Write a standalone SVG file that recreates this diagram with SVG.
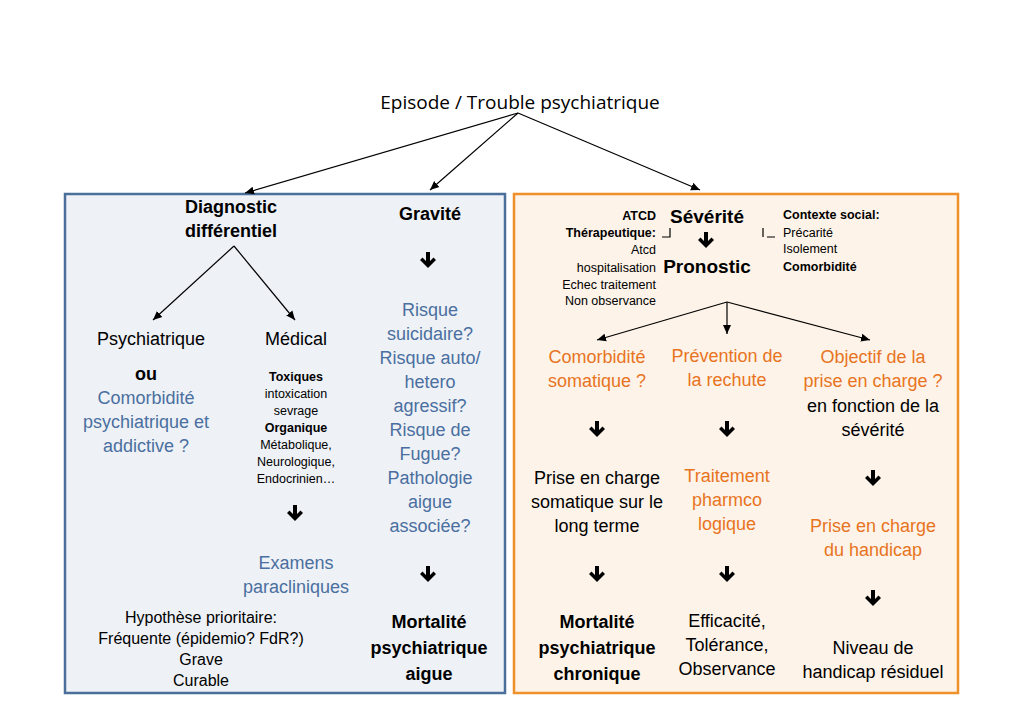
<svg xmlns="http://www.w3.org/2000/svg" width="1024" height="724" viewBox="0 0 1024 724">
<style>
text{font-family:"Liberation Sans",Arial,sans-serif;fill:#000;text-anchor:middle}
.t{font-size:18px}.s{font-size:12.5px}.b{font-weight:bold}
.bl{fill:#4a6fa0}.or{fill:#e8741f}
.ln{stroke:#000;stroke-width:1.2;fill:none}
</style>
<defs>
<marker id="ah" markerWidth="10" markerHeight="10" refX="9" refY="5" orient="auto" markerUnits="userSpaceOnUse"><path d="M0,1 L9,5 L0,9 Z" fill="#000"/></marker>
<path id="da" d="M-2,-8 H2 V1 L5.5,-2.5 L8,0 L0,8 L-8,0 L-5.5,-2.5 L-2,1 Z" fill="#000"/>
</defs>
<rect width="1024" height="724" fill="#fff"/>
<g id="boxL"><rect x="65" y="194" width="440" height="499" fill="#eef1f6" stroke="#4a6f9a" stroke-width="2.5"/></g>
<g id="boxR"><rect x="514" y="194" width="444" height="499" fill="#fdf3e8" stroke="#f0902b" stroke-width="2.5"/></g>
<g id="connectors">
<line class="ln" x1="518" y1="113" x2="245" y2="193" marker-end="url(#ah)"/>
<line class="ln" x1="518" y1="113" x2="430" y2="190" marker-end="url(#ah)"/>
<line class="ln" x1="518" y1="113" x2="700" y2="190" marker-end="url(#ah)"/>
<line class="ln" x1="234" y1="246" x2="153" y2="320" marker-end="url(#ah)"/>
<line class="ln" x1="234" y1="246" x2="295" y2="320" marker-end="url(#ah)"/>
<line class="ln" x1="727" y1="302" x2="597" y2="340" marker-end="url(#ah)"/>
<line class="ln" x1="727" y1="302" x2="727" y2="334" marker-end="url(#ah)"/>
<line class="ln" x1="727" y1="302" x2="870" y2="340" marker-end="url(#ah)"/>
<use href="#da" x="428" y="260"/><use href="#da" x="295" y="513"/><use href="#da" x="428" y="574"/>
<use href="#da" x="706" y="240"/>
<use href="#da" x="597" y="429"/><use href="#da" x="727" y="429"/><use href="#da" x="873" y="478"/>
<use href="#da" x="597" y="574"/><use href="#da" x="727" y="574"/><use href="#da" x="873" y="598"/>
</g>
<g id="top"><text x="520" y="109" style="font-family:'Open Sans','Liberation Sans',sans-serif;font-size:19px">Episode / Trouble psychiatrique</text></g>
<g id="diag"><text class="t b" x="231" y="213">Diagnostic</text><text class="t b" x="231" y="237">différentiel</text></g>
<g id="grav"><text class="t b" x="430" y="220">Gravité</text></g>
<g id="psy"><text class="t" x="151" y="345">Psychiatrique</text><text class="t b" x="146" y="380">ou</text>
<text class="t bl" x="146" y="404">Comorbidité</text><text class="t bl" x="146" y="428">psychiatrique et</text><text class="t bl" x="146" y="452">addictive ?</text></g>
<g id="med"><text class="t" x="296" y="345">Médical</text>
<text class="s b" x="296" y="381">Toxiques</text><text class="s" x="296" y="398">intoxication</text><text class="s" x="296" y="415">sevrage</text>
<text class="s b" x="296" y="432">Organique</text><text class="s" x="296" y="449">Métabolique,</text><text class="s" x="296" y="466">Neurologique,</text><text class="s" x="296" y="483">Endocrinien…</text></g>
<g id="exam"><text class="t bl" x="296" y="569">Examens</text><text class="t bl" x="296" y="593">paracliniques</text></g>
<g id="hyp"><text class="s" x="201" y="623" style="font-size:16px">Hypothèse prioritaire:</text><text x="201" y="644" style="font-size:16px">Fréquente (épidemio? FdR?)</text><text x="201" y="665" style="font-size:16px">Grave</text><text x="201" y="686" style="font-size:16px">Curable</text></g>
<g id="risk">
<text class="t bl" x="430" y="316">Risque</text><text class="t bl" x="430" y="340">suicidaire?</text><text class="t bl" x="430" y="364">Risque auto/</text><text class="t bl" x="430" y="388">hetero</text><text class="t bl" x="430" y="412">agressif?</text><text class="t bl" x="430" y="436">Risque de</text><text class="t bl" x="430" y="460">Fugue?</text><text class="t bl" x="430" y="484">Pathologie</text><text class="t bl" x="430" y="508">aigue</text><text class="t bl" x="430" y="532">associée?</text></g>
<g id="mortA"><text class="t b" x="429" y="628">Mortalité</text><text class="t b" x="429" y="654">psychiatrique</text><text class="t b" x="429" y="680">aigue</text></g>
<g id="atcd" style="font-size:12.5px">
<text class="b" x="656" y="220" style="text-anchor:end">ATCD</text><text class="b" x="656" y="237" style="text-anchor:end">Thérapeutique: </text>
<text x="656" y="254" style="text-anchor:end">Atcd</text><text x="656" y="272" style="text-anchor:end">hospitalisation</text>
<text x="656" y="289" style="text-anchor:end">Echec traitement</text><text x="656" y="305" style="text-anchor:end">Non observance</text>
<path class="ln" d="M662,237 H670 V228" stroke-width="1"/>
<path class="ln" d="M763,228 V237 M767,237 H775" stroke-width="1"/>
</g>
<g id="sev"><text class="b" x="707" y="223" style="font-size:19px">Sévérité</text><text class="b" x="707" y="273" style="font-size:19px">Pronostic</text></g>
<g id="ctx" style="font-size:12.5px">
<text class="b" x="783" y="219" style="text-anchor:start">Contexte social:</text><text x="783" y="237" style="text-anchor:start">Précarité</text>
<text x="783" y="253" style="text-anchor:start">Isolement</text><text class="b" x="783" y="271" style="text-anchor:start">Comorbidité</text></g>
<g id="como"><text class="t or" x="597" y="363">Comorbidité</text><text class="t or" x="597" y="387">somatique ?</text></g>
<g id="prev"><text class="t or" x="727" y="362">Prévention de</text><text class="t or" x="727" y="386">la rechute</text></g>
<g id="obj"><text class="t or" x="873" y="363">Objectif de la</text><text class="t or" x="873" y="387">prise en charge ?</text><text class="t" x="873" y="412">en fonction de la</text><text class="t" x="873" y="436">sévérité</text></g>
<g id="pecs"><text class="t" x="597" y="484">Prise en charge</text><text class="t" x="597" y="508">somatique sur le</text><text class="t" x="597" y="532">long terme</text></g>
<g id="trt"><text class="t or" x="727" y="482">Traitement</text><text class="t or" x="727" y="506">pharmco</text><text class="t or" x="727" y="530">logique</text></g>
<g id="hand"><text class="t or" x="873" y="532">Prise en charge</text><text class="t or" x="873" y="556">du handicap</text></g>
<g id="mortC"><text class="t b" x="597" y="628">Mortalité</text><text class="t b" x="597" y="654">psychiatrique</text><text class="t b" x="597" y="680">chronique</text></g>
<g id="eff"><text class="t" x="727" y="627">Efficacité,</text><text class="t" x="727" y="651">Tolérance,</text><text class="t" x="727" y="675">Observance</text></g>
<g id="niv"><text class="t" x="873" y="654">Niveau de</text><text class="t" x="873" y="678">handicap résiduel</text></g>
</svg>
